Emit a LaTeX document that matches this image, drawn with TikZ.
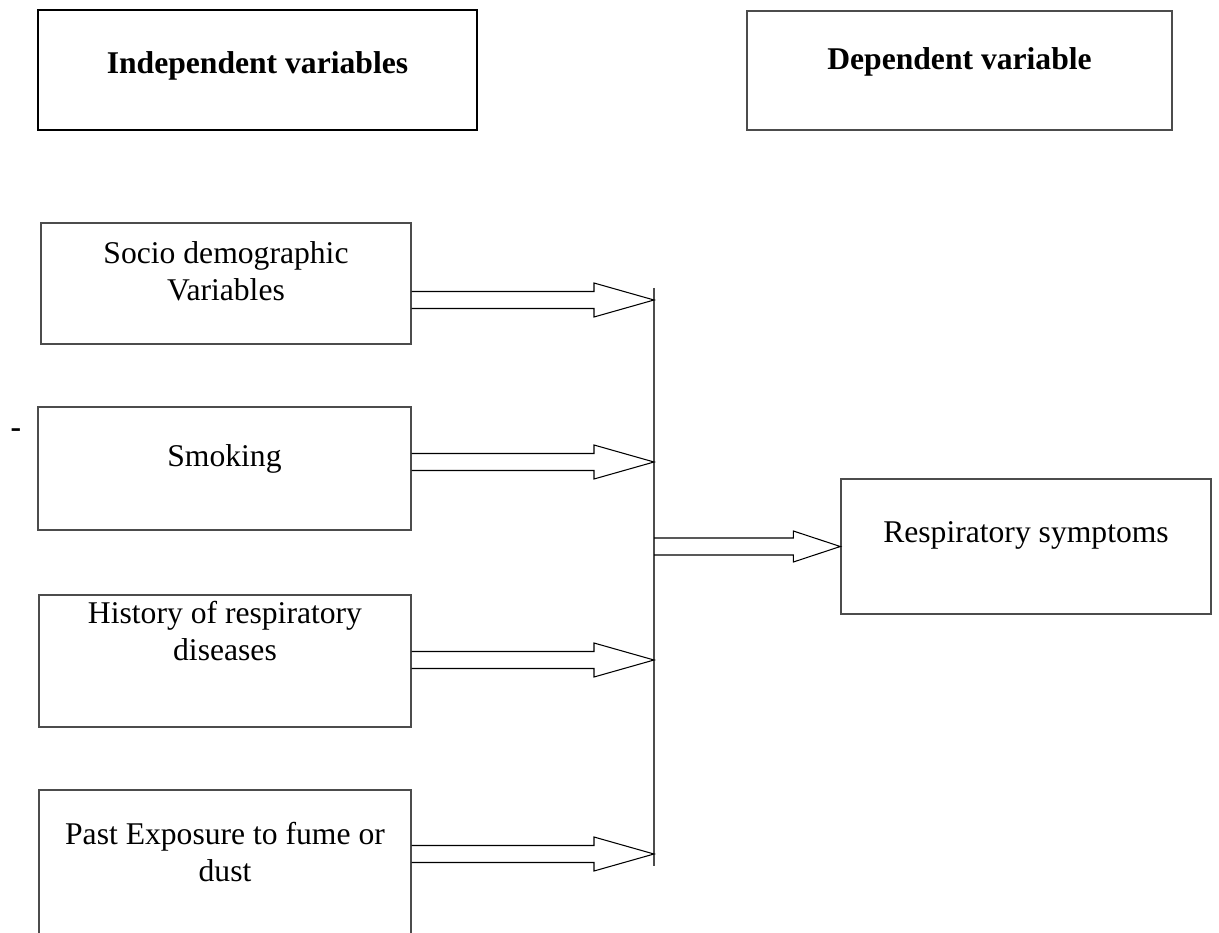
\documentclass[tikz,border=0pt]{standalone}
\usepackage{fontspec}
\setmainfont{Liberation Serif}
\usetikzlibrary{calc}

\tikzset{
  varbox/.style={draw=black!70, line width=0.8pt, minimum width=7.4cm, inner sep=0pt},
  boxtext/.style={anchor=north, inner sep=0pt, align=center, font=\fontsize{18}{21}\selectfont},
  fatline/.style={draw=black, line width=0.6pt, line join=miter},
}

% hollow block arrow: from, to, head length, head half width
\newcommand{\fatarrow}[4]{%
  \draw[fatline] ($(#1)+(0,8.5)$) -- ($(#2)+(-#3,8.5)$) -- ($(#2)+(-#3,#4)$) -- (#2)
    -- ($(#2)+(-#3,-#4)$) -- ($(#2)+(-#3,-8.5)$) -- ($(#1)+(0,-8.5)$);}

\begin{document}
\begin{tikzpicture}[x=0.02cm, y=-0.02cm]
  \useasboundingbox (0,0) rectangle (1219,932);
  % headings
  \node (indep) [draw, line width=1.5pt, minimum width=8.78cm, minimum height=2.4cm, inner sep=0pt,
    label={[boxtext, label distance=-0.86cm]north:\bfseries Independent variables}] at (257.5,70) {};
  \node (dep) [varbox, minimum width=8.5cm, minimum height=2.38cm,
    label={[boxtext, label distance=-0.74cm]north:\bfseries Dependent variable}] at (959.5,70.5) {};
  % independent variables
  \node (socio) [varbox, minimum height=2.42cm,
    label={[boxtext, label distance=-0.38cm]north:Socio demographic\\Variables}] at (226,283.5) {};
  \node (smoke) [varbox, minimum width=7.46cm, minimum height=2.46cm,
    label={[boxtext, label distance=-0.76cm]north:Smoking}] at (224.5,468.5) {};
  \node (hist) [varbox, minimum width=7.44cm, minimum height=2.64cm,
    label={[boxtext, label distance=-0.14cm]north:History of respiratory\\diseases}] at (225,661) {};
  \node (past) [varbox, minimum width=7.44cm, minimum height=3.4cm,
    label={[boxtext, label distance=-0.66cm]north:Past Exposure to fume or\\dust}] at (225,875) {};
  \node (dash) [inner sep=0pt, font=\bfseries\fontsize{18}{21}\selectfont] at (16,433) {-};
  % dependent variable
  \node (resp) [varbox, minimum height=2.7cm,
    label={[boxtext, label distance=-0.86cm]north:Respiratory symptoms}] at (1026,546.5) {};
  % collecting line
  \coordinate (bustop) at (654,288);
  \coordinate (busbot) at (654,866);
  \draw[draw=black!70, line width=0.8pt] (bustop) -- (busbot);
  \coordinate (in1) at (654,300);
  \coordinate (in2) at (654,462);
  \coordinate (in3) at (654,660);
  \coordinate (in4) at (654,854);
  \coordinate (outfrom) at (654,546.5);
  \fatarrow{socio.east |- in1}{in1}{60}{17}
  \fatarrow{smoke.east |- in2}{in2}{60}{17}
  \fatarrow{hist.east |- in3}{in3}{60}{17}
  \fatarrow{past.east |- in4}{in4}{60}{17}
  \fatarrow{outfrom}{resp.west}{47}{15.5}
\end{tikzpicture}
\end{document}
